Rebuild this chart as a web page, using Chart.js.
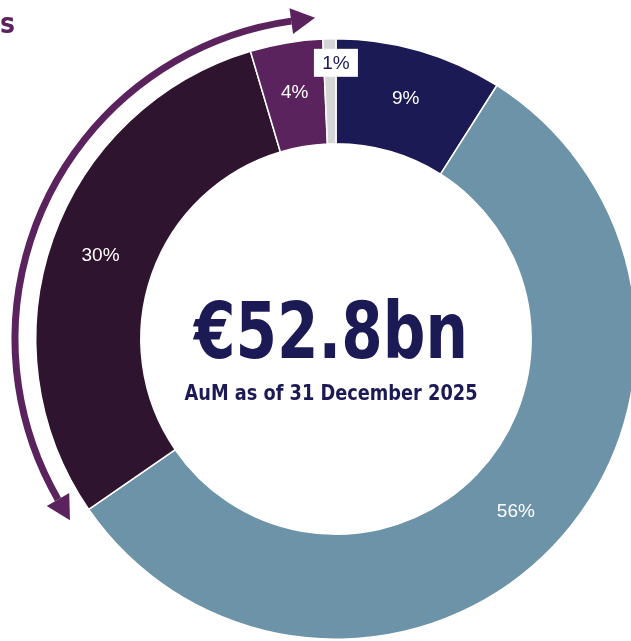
<!DOCTYPE html>
<html>
<head>
<meta charset="utf-8">
<script src="https://cdn.jsdelivr.net/npm/chart.js@4.4.1/dist/chart.umd.min.js"></script>
<style>
    html, body { margin: 0; padding: 0; background: #fff; overflow: hidden; }
    #wrap { position: absolute; left: 0; top: 0; width: 672px; height: 678px; }
</style>
</head>
<body>
<div id="wrap"><canvas id="graficoAum"></canvas></div>
<script>
// dados do gráfico (sentido horário a partir do topo)
const categorias = ['A', 'B', 'C', 'D', 'E'];
const percentuais = [9, 56.4, 30, 3.9, 0.7];
const rotulos = ['9%', '56%', '30%', '4%', '1%'];
const cores = ['#1c1a55', '#6d93a8', '#2f142f', '#5b235d', '#d6d6d6'];
const totalTexto = '€52.8bn';
const subtitulo = 'AuM as of 31 December 2025';

const roxo = '#5b235d';
const marinho = '#1c1a55';
const fonteCondensada = '"DejaVu Sans Condensed", "Liberation Sans Narrow", sans-serif';

// escreve texto comprimido na horizontal
function textoEstreito(ctx, texto, x, y, escala) {
    ctx.save();
    ctx.translate(x, y);
    ctx.scale(escala, 1);
    ctx.fillText(texto, 0, 0);
    ctx.restore();
}

const pluginRotulos = {
    id: 'rotulos',
    afterDatasetsDraw(chart) {
        const ctx = chart.ctx;
        const meta = chart.getDatasetMeta(0);
        ctx.save();
        ctx.textAlign = 'center';
        ctx.textBaseline = 'middle';
        ctx.font = '19px "Liberation Sans", Arial, sans-serif';
        meta.data.forEach((arco, i) => {
            const ang = (arco.startAngle + arco.endAngle) / 2;
            if (i === 4) {
                // rótulo em caixa branca acima da fatia pequena
                const r = arco.outerRadius - 24;
                const x = arco.x + Math.cos(ang) * r + 6;
                const y = arco.y + Math.sin(ang) * r;
                ctx.fillStyle = '#fff';
                ctx.fillRect(x - 22, y - 14, 44, 28);
                ctx.fillStyle = marinho;
                ctx.fillText(rotulos[i], x, y + 1);
                return;
            }
            const r = (arco.innerRadius + arco.outerRadius) / 2 + 2;
            ctx.fillStyle = '#ffffff';
            ctx.fillText(rotulos[i], arco.x + Math.cos(ang) * r, arco.y + Math.sin(ang) * r);
        });

        // texto central
        const cx = meta.data[0].x - 5;
        const cy = meta.data[0].y;
        ctx.fillStyle = marinho;
        ctx.textBaseline = 'alphabetic';
        ctx.font = 'bold 78px ' + fonteCondensada;
        textoEstreito(ctx, totalTexto, cx, cy + 19, 0.85);
        ctx.font = 'bold 21px ' + fonteCondensada;
        textoEstreito(ctx, subtitulo, cx, cy + 61, 0.94);
        ctx.restore();
    }
};

const pluginSeta = {
    id: 'seta',
    afterDraw(chart) {
        const ctx = chart.ctx;
        const arco = chart.getDatasetMeta(0).data[0];
        const cx = arco.x, cy = arco.y;
        const r = 321;
        const grau = Math.PI / 180;
        const a1 = (236 - 90) * grau + 0.07;
        const a2 = (356 - 90) * grau - 0.07;
        ctx.save();
        ctx.strokeStyle = roxo;
        ctx.fillStyle = roxo;
        ctx.lineWidth = 7;
        ctx.beginPath();
        ctx.arc(cx, cy, r, a1, a2);
        ctx.stroke();

        function cabeca(ang, dir) {
            // ponta da seta tangente ao arco
            const px = cx + Math.cos(ang) * r;
            const py = cy + Math.sin(ang) * r;
            const tx = -Math.sin(ang) * dir;
            const ty = Math.cos(ang) * dir;
            const nx = Math.cos(ang), ny = Math.sin(ang);
            const len = 24, larg = 13;
            ctx.beginPath();
            ctx.moveTo(px + tx * len, py + ty * len);
            ctx.lineTo(px + nx * larg, py + ny * larg);
            ctx.lineTo(px - nx * larg, py - ny * larg);
            ctx.closePath();
            ctx.fill();
        }
        cabeca(a2, 1);
        cabeca(a1, -1);

        ctx.font = 'bold 28px ' + fonteCondensada;
        ctx.textAlign = 'left';
        ctx.textBaseline = 'alphabetic';
        ctx.fillText('s', 0, 33);
        ctx.restore();
    }
};

new Chart(document.getElementById('graficoAum'), {
    type: 'doughnut',
    data: {
        labels: categorias,
        datasets: [{
            data: percentuais,
            backgroundColor: cores,
            borderColor: '#ffffff',
            borderWidth: 1.5
        }]
    },
    options: {
        responsive: true,
        maintainAspectRatio: false,
        animation: false,
        cutout: '65%',
        layout: { padding: { left: 35, right: 35, top: 38, bottom: 38 } },
        plugins: {
            legend: { display: false },
            tooltip: { enabled: false }
        }
    },
    plugins: [pluginRotulos, pluginSeta]
});
</script>
</body>
</html>
